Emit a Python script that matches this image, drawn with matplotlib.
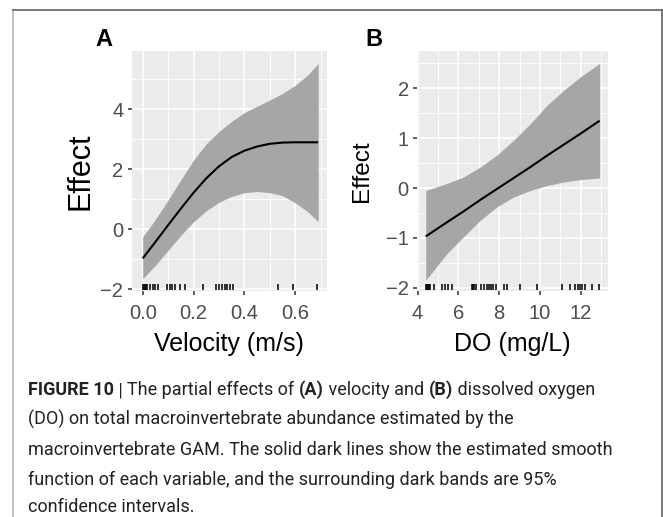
import numpy as np
import matplotlib
matplotlib.use('Agg')
import matplotlib.pyplot as plt
from matplotlib import font_manager
from matplotlib.lines import Line2D
import matplotlib.transforms as mtransforms

# ---------------- data ----------------
vel_x = [0.0, 0.05, 0.10, 0.15, 0.20, 0.25, 0.30, 0.35, 0.40, 0.45, 0.50, 0.55, 0.60, 0.65, 0.69]
vel_fit = [-0.97, -0.42, 0.14, 0.69, 1.22, 1.70, 2.10, 2.41, 2.62, 2.76, 2.85, 2.89, 2.90, 2.90, 2.90]
vel_upper = [-0.25, 0.33, 0.98, 1.65, 2.31, 2.85, 3.26, 3.60, 3.89, 4.10, 4.31, 4.53, 4.80, 5.15, 5.53]
vel_lower = [-1.65, -1.20, -0.70, -0.20, 0.25, 0.62, 0.90, 1.10, 1.22, 1.26, 1.22, 1.12, 0.88, 0.58, 0.25]
vel_rug = [0.0, 0.004, 0.008, 0.012, 0.016, 0.029, 0.039, 0.048, 0.061, 0.094,
           0.107, 0.117, 0.127, 0.146, 0.166, 0.236, 0.29, 0.30, 0.311, 0.322,
           0.332, 0.343, 0.355, 0.532, 0.59, 0.685]
vel_xticks = [0.0, 0.2, 0.4, 0.6]
vel_yticks = [-2, 0, 2, 4]

do_x = [4.4, 5.43, 6.25, 7.07, 7.89, 8.71, 9.53, 10.35, 11.17, 11.99, 12.93]
do_fit = [-0.97, -0.69, -0.47, -0.24, -0.02, 0.20, 0.42, 0.65, 0.87, 1.09, 1.35]
do_upper = [-0.05, 0.09, 0.22, 0.42, 0.66, 0.96, 1.29, 1.66, 1.96, 2.23, 2.50]
do_lower = [-1.85, -1.32, -0.98, -0.65, -0.38, -0.18, -0.05, 0.05, 0.12, 0.17, 0.20]
do_rug = [4.4, 4.45, 4.5, 4.55, 4.62, 4.78, 5.2, 5.35, 5.5, 5.68, 6.66, 6.72,
          6.78, 6.85, 7.1, 7.25, 7.4, 7.5, 7.62, 7.72, 7.85, 8.22, 8.38, 9.03,
          9.86, 11.1, 11.5, 11.74, 11.85, 11.95, 12.07, 12.23, 12.56, 12.9]
do_xticks = [4, 6, 8, 10, 12]
do_yticks = [-2, -1, 0, 1, 2]

panel_labels = ["A", "B"]
x_labels = ["Velocity (m/s)", "DO (mg/L)"]
y_label = "Effect"

caption_lines = [
    [("FIGURE 10", True), (" | ", False), ("The partial effects of ", False), ("(A)", True),
     (" velocity and ", False), ("(B)", True), (" dissolved oxygen", False)],
    [("(DO) on total macroinvertebrate abundance estimated by the", False)],
    [("macroinvertebrate GAM. The solid dark lines show the estimated smooth", False)],
    [("function of each variable, and the surrounding dark bands are 95%", False)],
    [("confidence intervals.", False)],
]

# ---------------- layout ----------------
W, H = 663, 517
plt.rcParams['font.family'] = ['Liberation Sans', 'DejaVu Sans']
fig = plt.figure(figsize=(W / 100, H / 100), dpi=100)
fig.patch.set_facecolor('white')


def rect(l, t, r, b):
    return [l / W, 1 - b / H, (r - l) / W, (b - t) / H]


axA = fig.add_axes(rect(131.7, 51, 326.7, 291))
axB = fig.add_axes(rect(417, 51, 608, 291))


def style(ax, xticks, xminor, yticks, yminor, xlim, ylim, ysize, ylab_x):
    ax.set_facecolor('#EBEBEB')
    for s in ax.spines.values():
        s.set_visible(False)
    ax.set_xticks(xticks)
    ax.set_xticks(xminor, minor=True)
    ax.set_yticks(yticks)
    ax.set_yticks(yminor, minor=True)
    ax.set_xlim(*xlim)
    ax.set_ylim(*ylim)
    ax.grid(which='major', color='white', lw=1.2)
    ax.grid(which='minor', color='white', lw=0.6)
    ax.set_axisbelow(True)
    ax.tick_params(which='major', length=3, width=1.1, color='#333333',
                   labelsize=14.5, labelcolor='#4D4D4D', pad=3)
    ax.tick_params(axis='x', which='major', pad=6.5)
    ax.tick_params(which='minor', length=0)
    ax.set_ylabel(y_label, fontsize=ysize, color='black', va='center')
    ax.yaxis.set_label_coords(ylab_x, 0.5)


style(axA, vel_xticks, [0.1, 0.3, 0.5, 0.7], vel_yticks, [-1, 1, 3, 5],
      (-0.0433, 0.7235), (-2.057, 5.943), 22, (81 - 131.7) / 195)
axA.set_xticklabels(["%.1f" % v for v in vel_xticks])
style(axB, do_xticks, [5, 7, 9, 11, 13], do_yticks, [-1.5, -0.5, 0.5, 1.5, 2.5],
      (3.97, 13.34), (-2.066, 2.748), 17.5, (361.7 - 417) / 191)

for ax, x, lo, up, fx, fy, rug, xl in [
        (axA, vel_x, vel_lower, vel_upper, vel_x, vel_fit, vel_rug, x_labels[0]),
        (axB, do_x, do_lower, do_upper, do_x, do_fit, do_rug, x_labels[1])]:
    ax.fill_between(x, lo, up, color='#A6A6A6', lw=0, zorder=2)
    ax.plot(fx, fy, color='black', lw=1.5, zorder=3, solid_capstyle='butt',
            solid_joinstyle='round')
    trans = mtransforms.blended_transform_factory(ax.transData, ax.transAxes)
    ax.vlines(rug, 0.004, 0.03, transform=trans, colors='black', alpha=0.85,
              lw=1.3, zorder=4)
    ax.set_xlabel(xl, fontsize=18, color='black', va='center')
    ax.xaxis.set_label_coords(0.5, -(344 - 291) / 240)

# panel letters
fig.text(104 / W, 1 - 39 / H, panel_labels[0], fontsize=17, fontweight='bold',
         ha='center', va='center')
fig.text(374 / W, 1 - 39 / H, panel_labels[1], fontsize=17, fontweight='bold',
         ha='center', va='center')

# border
fig.add_artist(Line2D([13 / W, 13 / W], [0, 1 - 10 / H], transform=fig.transFigure,
                      color='#BBBBBB', lw=1.3))
fig.add_artist(Line2D([13 / W, 661.5 / W], [1 - 10 / H, 1 - 10 / H],
                      transform=fig.transFigure, color='#555555', lw=1.1))
fig.add_artist(Line2D([661.5 / W, 661.5 / W], [0, 1 - 10 / H],
                      transform=fig.transFigure, color='#555555', lw=1.1))

# caption
cap_family = ['Roboto', 'Liberation Sans', 'DejaVu Sans']
fig.canvas.draw()
renderer = fig.canvas.get_renderer()
probe = fig.text(0, 0, caption_lines[2][0][0], fontsize=10, family=cap_family)
w10 = probe.get_window_extent(renderer).width
probe.remove()
cap_size = 10 * (612 - 28) / w10

baselines = [395, 425, 455, 485, 512]
for line, yb in zip(caption_lines, baselines):
    xpix = 28
    for txt, bold in line:
        t = fig.text(xpix / W, 1 - yb / H, txt, fontsize=cap_size, family=cap_family,
                     fontweight='bold' if bold else 'normal', color='#222222',
                     ha='left', va='baseline')
        xpix += t.get_window_extent(renderer).width

fig.savefig('out.png', dpi=100, facecolor='white')
